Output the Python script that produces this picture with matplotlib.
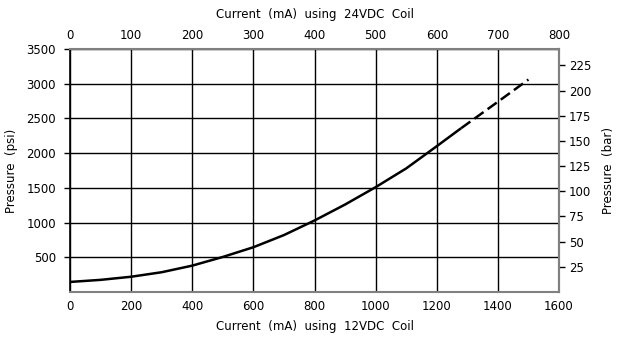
import matplotlib
matplotlib.use("Agg")
import matplotlib.pyplot as plt

# 12VDC coil current (mA) vs pressure (psi)
current_solid = [0, 100, 200, 300, 400, 500, 600, 700, 800, 900, 1000, 1100, 1200, 1280]
psi_solid = [145, 175, 220, 285, 380, 505, 645, 820, 1030, 1260, 1510, 1780, 2100, 2360]
current_dash = [1280, 1400, 1500]
psi_dash = [2360, 2740, 3060]

x_ticks = [0, 200, 400, 600, 800, 1000, 1200, 1400, 1600]
top_ticks = [0, 100, 200, 300, 400, 500, 600, 700, 800]
psi_ticks = [500, 1000, 1500, 2000, 2500, 3000, 3500]
bar_ticks = [25, 50, 75, 100, 125, 150, 175, 200, 225]
PSI_PER_BAR = 14.5038

plt.rcParams["font.family"] = ["DejaVu Sans"]
plt.rcParams["font.size"] = 8.5

fig = plt.figure(figsize=(6.17, 3.37), dpi=100)
ax = fig.add_axes([0.1135, 0.1335, 0.7925, 0.7211])

ax.plot(current_solid, psi_solid, color="black", lw=1.8, solid_capstyle="butt")
ax.plot(current_dash, psi_dash, color="black", lw=1.8, ls=(0, (4.5, 2)))

ax.set_xlim(0, 1600)
ax.set_ylim(0, 3500)
ax.set_xticks(x_ticks)
ax.set_yticks(psi_ticks)
ax.grid(True, color="black", lw=1.0)
ax.set_axisbelow(True)

for side in ["top", "bottom", "right"]:
    ax.spines[side].set_color("#808080")
    ax.spines[side].set_linewidth(1.5)
ax.spines["left"].set_color("black")
ax.spines["left"].set_linewidth(1.2)

ax.tick_params(axis="y", direction="out", length=4, width=1, pad=6)
ax.tick_params(axis="x", direction="out", length=0, pad=6)
ax.set_xlabel("Current  (mA)  using  12VDC  Coil", labelpad=5)
ax.set_ylabel("Pressure  (psi)", labelpad=6)

top = ax.secondary_xaxis("top", functions=(lambda x: x / 2, lambda x: x * 2))
top.set_xticks(top_ticks)
top.tick_params(length=0, pad=5)
top.spines["top"].set_visible(False)
top.set_xlabel("Current  (mA)  using  24VDC  Coil", labelpad=8)

right = ax.secondary_yaxis("right", functions=(lambda p: p / PSI_PER_BAR,
                                                 lambda b: b * PSI_PER_BAR))
right.set_yticks(bar_ticks)
right.tick_params(direction="out", length=4, width=1, pad=3)
right.spines["right"].set_color("#808080")
right.spines["right"].set_linewidth(1.5)
right.set_ylabel("Pressure  (bar)", labelpad=8)

fig.savefig("out.png", dpi=100)
